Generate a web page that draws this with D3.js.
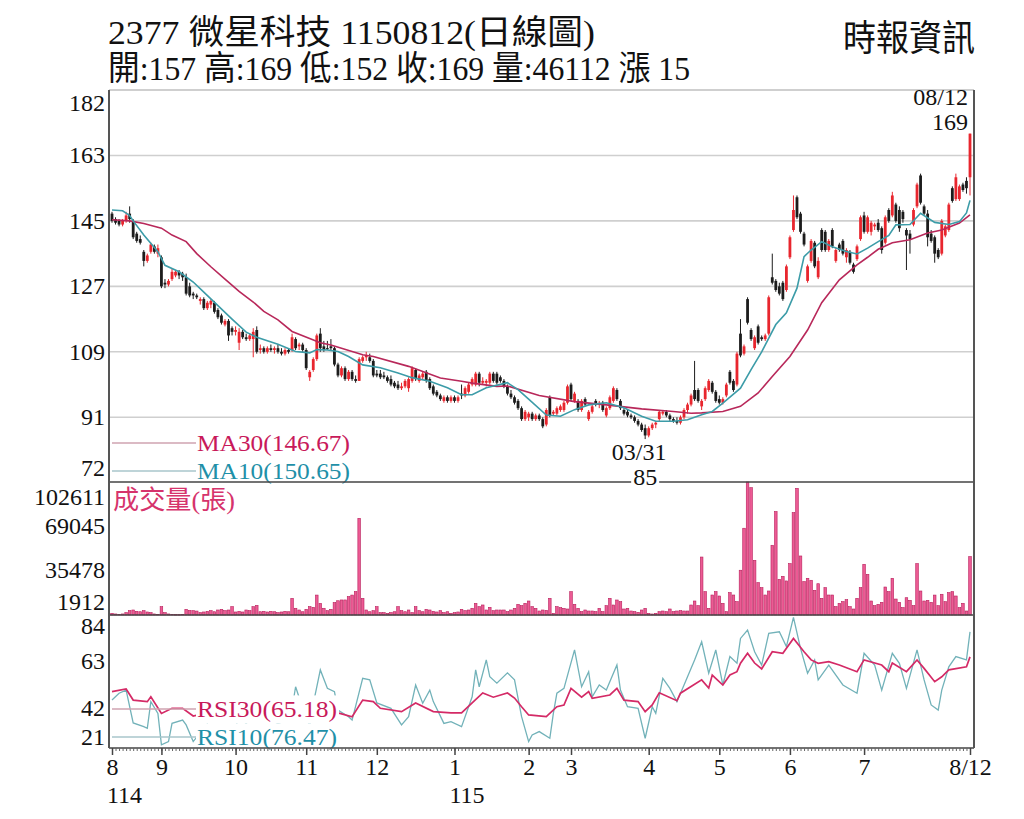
<!DOCTYPE html>
<html>
<head>
<meta charset="utf-8">
<script src="https://cdn.jsdelivr.net/npm/d3@7"></script>
<style>
body { margin: 0; background: #fff; }
svg text { font-family: "Liberation Serif", "Noto Sans CJK TC", serif; }
</style>
</head>
<body>
<svg id="chart" width="1024" height="819"></svg>
<script>
// daily candles, 114/08 .. 115/08/12 (one value per trading day)
var openP = [
  147,145.5,145,144,145,147,145,141.5,140,136.5,134,136.5,138,136,
  135,128,127.5,129,130,131,130.5,129.5,127,125,124.5,123,123.5,121,122,122.5,120.5,119,116.5,117.5,115.5,
  114.5,111.5,114.5,113,112.5,112.5,115,109.5,110,109,110,109.5,110,109,108.5,109.5,109.5,112.5,110.5,111,
  109.5,102,104,107,114,110.5,110,110.5,110,105.5,102.5,104.5,101.5,103.5,101.5,101,106.5,107.5,107.5,106.5,
  103,103,102.5,102,101.5,100.5,100,99,99.5,99,101,104,101,102,103.5,101.5,99.5,98,97,95.5,96.5,95.5,
  96.5,95.5,97.5,97,98,100,100,103,100.5,100.5,100.5,103,103,102,101,99.5,97.5,96.5,95.5,93.5,90.5,
  91,92,90.5,91.5,90.5,89,96.5,92,92,93,93,95,
  100,95.5,95.5,93,96,90.5,92.5,95.5,94.5,95,91.5,93.5,95.5,98.5,95.5,93,92.5,91.5,91,90,89,88,
  86,88,89,90.5,92,92.5,91.5,90.5,90,89.5,91,93,94.5,98.5,98.5,94,96,98.5,100.5,98,
  96,95,97,103.5,101,100,114,108.5,123.5,115,110,116,113,112.5,114,129.5,128.5,127,128,126,
  135,142.5,151.5,147,141.5,128.5,134,139,129.5,142.5,142,137,142.5,134,138.5,139.5,135,136.5,133,134.5,140,
  146.5,142,142,143.5,144.5,143,139,148,146.5,149.5,148,147.5,142.5,141.5,144,149,157.5,149,147,141.5,140.5,137,136,
  141,142.5,154,151,151,155,156,157
];
var highP = [
  147.5,146,145.5,145.5,147.5,149,145.5,142,141,137,136,139,138.5,138.5,
  135.5,129,129,132,131.5,131.5,131,130.5,128,125.5,125,124,124,123,123.5,123,121,119.5,118,118,116,
  116,115.5,115,114,114,115.5,116,111,110.5,110.5,111,110.5,111,110,110,110,114,113,111.5,111.5,
  110,104,107.5,114,115.5,112,112,112.5,110.5,106,105,105,104,104,102.5,107.5,108,109,108.5,107,
  104,104,103.5,102.5,102.5,101,101,100.5,101.5,102,105,104.5,103,103.5,104,102,100,98.5,97.5,97,97,97,
  97,97,100,99.5,100.5,102,103.5,103.5,102,101.5,103.5,103.5,103.5,102.5,101.5,100,98.5,97,96,94,93,
  92.5,92.5,92,92,91,93.5,97,93,94,94.5,95.5,100,
  100.5,98,96,96,96.5,93,94.5,96,95.5,95.5,94,97,99.5,99,96,93.5,93,92,91.5,90.5,89.5,89,
  88.5,89.5,90,93,93,93,92,91,91,91.5,93.5,95,97.5,106.5,99,96,99.5,101.5,101,98.5,
  97,96.5,100.5,104,101.5,109,118,111,124,115.5,113.5,116.5,113.5,114,124.5,136,129,128,128.5,133,
  141,152,152,147.5,142,133,140,139.5,135,143,142.5,140,143,137.5,139,140,137.5,137,133.5,138.5,146.5,
  147.5,146.5,145,144.5,145.5,143.5,146.5,148.5,153,150,149,148,143,142.5,148.5,155.5,158,149.5,148,142.5,141,137.5,145.5,
  144,150,154.5,158,155,155.5,157,169
];
var lowP = [
  144.5,144,143.5,143.5,144.5,144.5,140,139,138.5,132.5,133.5,136,136,135,
  126.5,126.5,127,128.5,129.5,129,128.5,124.5,124,123.5,123.5,122,120.5,120.5,121,119.5,118,116.5,116,112,113.5,
  113.5,109.5,112.5,112,112,107.5,108.5,108.5,108.5,108.5,109,108.5,108.5,108,108,108.5,109,109.5,109.5,109,
  104,101,103.5,106.5,109,109,109.5,109.5,105,102,102,101,101,101,100.5,101,106,106.5,106,102,
  102,101.5,101.5,100.5,99.5,99,98.5,98.5,99,98,100.5,101,100.5,101.5,100.5,98.5,97,96.5,95.5,95,95,95,
  95,95,96,96.5,97.5,99.5,99.5,99.5,100,99.5,100,100.5,100,100.5,99,97,96,94.5,93,90,90,
  90,90,90,90,88,88.5,91,91.5,91.5,92.5,92.5,94.5,
  95.5,95,92.5,92.5,94,90,92,94,93.5,92.5,91,93,95,95.5,93,91.5,91,90.5,89.5,88.5,87,85,
  85.5,87.5,88,90,91.5,91,90,89.5,89,89,90.5,92,94,95.5,95,93,95.5,98,97.5,95,
  94.5,94.5,96.5,100,98,99.5,107.5,108,116.5,112,109.5,111,112,112,113.5,127.5,125.5,124.5,123,125.5,
  134.5,142,145.5,141.5,138,128,133.5,132,129,136.5,136.5,136.5,137.5,133.5,136.5,135.5,133.5,133,130.5,134,139.5,
  141.5,141.5,141,142.5,142,136,138.5,144.5,146,144.5,142,144.5,131.5,136,143.5,148.5,149.5,146.5,138,139,133.5,134.5,135.5,
  140.5,142,150,150.5,150.5,153,152.5,152
];
var closeP = [
  145,144.5,144,145,146.5,145.5,140.5,139.5,139,134,135.5,138.5,136.5,137.5,
  127,127.5,128.5,131,131,130,129.5,125,124.5,124.5,124,123.5,121,122.5,123,120,118.5,117,117.5,113.5,114.5,
  115,114.5,113,112.5,113.5,114.5,109,110,109,110,109.5,110,109,108.5,109.5,109,113,110,111,109.5,
  104.5,103.5,107,113.5,110,109.5,110,110,105.5,102.5,104.5,101.5,103.5,101.5,101,107,107.5,108,106.5,102.5,
  102.5,102,102,101,100,99.5,99,99.5,101,101.5,104.5,101.5,102.5,103,101,99,97.5,97,96,96.5,95.5,96.5,
  95.5,96.5,97,99,100,101.5,103,100.5,101,101,103,101,100.5,101,99.5,97.5,96.5,95,93.5,90.5,92.5,
  92,90.5,91.5,90.5,88.5,93,91.5,92.5,93.5,94,95,99.5,
  96,97.5,93,95.5,94.5,92.5,94,94.5,95,93,93.5,96.5,99,96,93.5,92,91.5,91,90,89,87.5,86,
  88,89,89.5,92.5,92.5,91.5,90.5,90,89.5,91,93,94.5,97,96,95.5,95.5,99,101,98,95.5,
  95,96,100,100.5,98.5,108.5,108,110.5,117,112.5,113,111.5,112.5,113.5,124,128,126,125,123.5,132.5,
  140.5,148,146,142,138.5,132.5,139.5,132.5,134,137,137,139.5,138,137,137,136,137,133.5,131,138,146,
  142,146,144.5,144,142.5,137,146,145,152,145,143,145.5,141,140,148,155,150,147,140.5,139.5,136,135,145,
  143.5,149.5,150.5,157,154.5,153.5,154,169
];
var volume = [
  3200,2700,2400,2700,3700,5200,5700,4700,4400,5200,4200,3700,2700,2400,
  8200,3700,2700,2400,2200,2200,2300,6200,5400,5200,4900,3700,4200,4700,5200,4400,5700,6200,5200,5700,8200,
  4200,4700,4200,5700,5200,8200,9200,4400,4700,4200,4700,4400,3700,4200,4700,4400,14500,7000,5700,4400,
  6200,8200,7700,17000,10700,7000,5200,6200,11300,12700,13300,13300,15800,17000,19600,75100,14500,5700,4400,5200,
  8200,3700,3700,3200,3700,4400,8200,5200,4400,5700,3700,8200,5200,4400,6200,5700,4700,4200,5200,3700,4400,3200,
  3700,4200,6200,5200,5700,7000,10700,8200,9500,5700,7700,5200,5700,5700,5700,4440,5700,6960,9980,8980,10740,
  12510,8220,6960,4940,5700,5450,14530,3170,8220,7470,6960,6460,
  19580,9980,6960,4440,5700,4940,4940,4440,6960,4440,8980,14530,9480,13270,12000,6460,6960,4940,4440,3930,5700,6960,
  3170,2670,3170,4440,4940,4440,6460,4440,4940,5200,4940,4940,9480,12510,9000,45800,19580,6960,17050,19580,
  16300,10740,4440,18820,17050,12000,35800,67600,102611,98300,43300,26400,22600,17050,20080,54700,80200,28900,31200,27700,
  40800,79400,97800,46600,27200,29700,28200,20600,25600,14530,22600,17050,17050,8220,10740,12000,13500,8220,6460,14530,22600,
  40300,32700,12510,8980,9980,11500,23100,19580,29700,14000,11500,7470,15000,13000,8980,40800,20080,12510,13000,11500,17000,8980,17600,
  12000,18820,19580,16300,7470,10740,4940,46112
];

// moving averages and RSI: [day, value]
var ma10 = [[0,148],[3,147.8],[5,146.5],[6,145],[9,141.1],[13,136.5],[15,132.8],[19,131],[23,128.2],[26,125.4],
  [30,121.7],[34,118],[38,114.4],[41,113],[47,111.1],[52,109.1],[56,108.7],[58,109.6],[61,109.5],[64,109.1],
  [67,107.7],[71,105.4],[76,104.6],[81,103.2],[85,101.9],[90,100.9],[95,99.1],[99,97.2],[102,97.2],[106,99.1],
  [112,100.5],[115,98.6],[118,96],[123,91.6],[127,91.3],[131,93.1],[135,94.4],[140,95],[145,93.6],[150,91.3],
  [154,89.9],[159,89.9],[163,90.3],[167,91.7],[170,92.6],[173,94.9],[178,99],[181,104.1],[184,109],[188,116.5],
  [191,119.7],[194,126.5],[196,135.2],[198,137],[201,139.3],[204,137.9],[208,136.6],[211,135.9],[214,137.5],
  [217,139.3],[220,141],[222,143.9],[226,144],[229,147.1],[233,144.6],[237,144],[240,144.8],[242,147.2],[243,150.65]];
var ma30 = [[0,145.3],[5,145],[9,144.3],[14,143],[17,141.1],[21,139.3],[24,136],[28,132.4],[32,129],[36,125.6],
  [40,122.7],[43,120.1],[47,117.8],[51,114.6],[59,111.5],[62,110.9],[71,108.2],[74,107.7],[84,105],[93,101.8],
  [99,100.9],[102,100.4],[109,99.5],[112,99.6],[121,97],[131,95.3],[140,94.4],[150,93.3],[159,92.6],[164,92.1],
  [167,92.2],[173,92.6],[178,94],[183,97.7],[187,102.2],[192,107.7],[197,115],[201,122.5],[206,128.8],[211,132.9],
  [214,135],[217,137.2],[221,139],[226,139.8],[231,141.7],[235,142.5],[240,144.4],[243,146.67]];
var rsi30 = [[0,49.5],[4,50.7],[6,45.7],[10,45],[11,47.2],[14,39.7],[17,42],[20,42],[23,38.5],[27,40],[31,38.5],
  [34,37.5],[36,40.5],[39,39],[41,41.5],[44,39],[48,38],[51,42],[53,40],[56,37.5],[59,42],[61,40],[64,39.9],
  [68,38.2],[71,45.7],[74,45],[76,42],[82,40.5],[86,44.4],[91,40.5],[96,39.9],[99,39.9],[102,44.4],[105,48.9],
  [108,47],[112,48.9],[114,46.6],[116,42.7],[118,39],[123,38.2],[126,42.7],[128,43.5],[130,51],[133,47],[135,49.5],
  [136,46.5],[141,48],[143,51],[145,45.7],[149,45],[151,40.5],[153,43.5],[155,49],[160,45.4],[161,48.8],[167,54.8],
  [169,51.1],[170,57],[173,52.5],[175,57],[177,58.5],[178,62.3],[180,66.8],[182,62.4],[184,59.7],[187,67.5],
  [190,66.8],[193,73.5],[196,67.5],[198,63.8],[200,62.3],[203,63],[206,61.5],[211,58.5],[213,63.8],[218,61.5],
  [220,58.5],[221,62.4],[225,58.5],[228,63.8],[230,60],[233,54],[235,56.2],[237,59.3],[242,60.7],[243,65.18]];
var rsi10 = [[0,45.7],[2,48.8],[4,50.2],[6,35.4],[9,33.7],[10,33],[11,45],[13,39.7],[14,25.5],[16,27],[17,35.2],
  [20,36.7],[21,34.5],[23,27],[25,31],[27,35],[29,30],[31,28],[33,27],[35,33],[36,39],[38,35],[40,40],[41,36],
  [44,38],[47,35],[50,37],[51,42],[52,51.7],[54,42],[56,34],[57,44],[59,59.3],[61,51],[63,49.5],[64,41.2],
  [67,38.2],[68,36.7],[71,55.5],[73,54.8],[75,44.4],[79,42],[82,34.5],[84,38.2],[86,52.5],[88,44.3],[90,50.2],
  [91,45],[94,35.2],[96,36],[99,33.7],[102,47.2],[103,59.3],[104,51.7],[106,63.8],[107,56.2],[109,53.3],[112,58],
  [114,54.8],[116,38.2],[118,27],[119,30],[121,31.5],[124,28.5],[125,39.7],[126,48.8],[128,51],[131,68.3],
  [133,51.7],[135,58.5],[136,47.2],[138,52.5],[140,50.2],[143,61.5],[144,50.2],[146,42.7],[149,42],[151,28.5],
  [153,42.7],[154,39.7],[156,55.5],[158,51],[160,45],[163,56.2],[165,63.8],[167,72],[169,57.8],[171,68.3],
  [173,52.5],[175,65.3],[177,62.3],[178,73.5],[180,77.3],[182,67.5],[184,61.5],[186,75.8],[189,76.5],[191,69.8],
  [193,83],[195,69],[197,57.8],[199,63.8],[200,54.8],[203,61.5],[207,52.5],[211,48.8],[213,66.8],[216,61.5],
  [218,50.2],[221,66.8],[223,62.3],[225,51],[228,68.3],[230,54.8],[232,43.5],[234,41.2],[235,50.2],[237,60.7],
  [239,65.3],[242,63.8],[243,76.47]];

// axis labels
var monthStart = [0, 14, 35, 55, 75, 97, 118, 130, 152, 172, 192, 213];
var monthLabels = ["8", "9", "10", "11", "12", "1", "2", "3", "4", "5", "6", "7"];
var yearStart = [0, 97];
var yearLabels = ["114", "115"];
var lastDate = "08/12", lastMonthLabel = "8/12";
var lowDate = "03/31";
var priceTicks = [72, 91, 109, 127, 145, 163, 182];
var priceGrid = [91, 109, 127, 145, 163];
var volTicks = [1912, 35478, 69045, 102611];
var rsiTicks = [21, 42, 63, 84];

var N = closeP.length;
var svg = d3.select("#chart");
var L = 109, R = 974;
var mainTop = 90, mainBot = 482, volBot = 615, rsiBot = 748;
var red = "#e8262e", black = "#1c1c1c";

var x = d3.scaleLinear().domain([0, N - 1]).range([112, 970]);
var yP = d3.scaleLinear().domain([73.2, 181]).range([mainBot, mainTop]);
var yV = d3.scaleLinear().domain([1912, 102611]).range([volBot, mainBot]);
var yR = d3.scaleLinear().domain([24.1, 84.05]).range([rsiBot, volBot]);

// title
svg.append("text").attr("x", 108).attr("y", 44).attr("font-size", 34).attr("fill", "#111")
    .attr("textLength", 487).attr("lengthAdjust", "spacingAndGlyphs")
    .text("2377  微星科技 1150812(日線圖)");
svg.append("text").attr("x", 108).attr("y", 80).attr("font-size", 34).attr("fill", "#111")
    .attr("textLength", 582).attr("lengthAdjust", "spacingAndGlyphs")
    .text("開:" + openP[N-1] + " 高:" + highP[N-1] + " 低:" + lowP[N-1] + " 收:" + closeP[N-1] +
          " 量:" + volume[N-1] + " 漲 " + (closeP[N-1] - closeP[N-2]));
svg.append("text").attr("x", 843).attr("y", 51).attr("font-size", 36).attr("fill", "#111")
    .attr("textLength", 132).attr("lengthAdjust", "spacingAndGlyphs")
    .text("時報資訊");

// grid
svg.append("line").attr("x1", L).attr("x2", R).attr("y1", mainTop).attr("y2", mainTop)
    .attr("stroke", "#cfcfcf").attr("stroke-width", 2);
svg.append("g").selectAll("line").data(priceGrid).join("line")
    .attr("x1", L).attr("x2", R)
    .attr("y1", function(d) { return yP(d); })
    .attr("y2", function(d) { return yP(d); })
    .attr("stroke", "#cfcfcf").attr("stroke-width", 1.6);

// left labels, the end ones pushed inside their panel
function leftAxis(scale, ticks, top, bot, padTop, padBot) {
    var g = svg.append("g").attr("transform", "translate(" + L + ",0)")
        .call(d3.axisLeft(scale).tickValues(ticks).tickSize(0).tickPadding(4).tickFormat(d3.format("d")));
    g.select(".domain").remove();
    g.selectAll(".tick").attr("transform", function(d) {
        return "translate(0," + Math.min(bot - padBot, Math.max(top + padTop, scale(d))) + ")";
    });
    g.selectAll("text").attr("font-size", 24).attr("fill", "#111");
}
leftAxis(yP, priceTicks, mainTop, mainBot, 13, 14);
leftAxis(yV, volTicks, mainBot, volBot, 15, 13);
leftAxis(yR, rsiTicks, volBot, rsiBot, 11, 11);

// candles
function isUp(i) { return closeP[i] > openP[i]; }
var candle = svg.append("g").selectAll("g").data(d3.range(N)).join("g");
candle.append("line")
    .attr("x1", function(i) { return x(i); })
    .attr("x2", function(i) { return x(i); })
    .attr("y1", function(i) { return yP(highP[i]); })
    .attr("y2", function(i) { return yP(lowP[i]); })
    .attr("stroke", function(i) { return isUp(i) ? red : black; })
    .attr("stroke-width", 1);
candle.append("rect")
    .attr("x", function(i) { return x(i) - 1.4; })
    .attr("width", 2.8)
    .attr("y", function(i) { return yP(Math.max(openP[i], closeP[i])); })
    .attr("height", function(i) { return Math.max(1, Math.abs(yP(openP[i]) - yP(closeP[i]))); })
    .attr("fill", function(i) { return isUp(i) ? red : black; });

// moving averages
var line = d3.line()
    .x(function(d) { return x(d[0]); })
    .y(function(d) { return yP(d[1]); });
svg.append("path").attr("d", line(ma30)).attr("fill", "none").attr("stroke", "#b8285a").attr("stroke-width", 1.6);
svg.append("path").attr("d", line(ma10)).attr("fill", "none").attr("stroke", "#3c9ca8").attr("stroke-width", 1.6);

// volume
svg.append("g").selectAll("rect").data(d3.range(N)).join("rect")
    .attr("x", function(i) { return x(i) - 1.3; })
    .attr("width", 2.6)
    .attr("y", function(i) { return yV(volume[i]); })
    .attr("height", function(i) { return Math.max(0.5, volBot - yV(volume[i])); })
    .attr("fill", "#ec5b94").attr("stroke", "#b81d5a").attr("stroke-width", 0.6);

// RSI
var rsiLine = d3.line()
    .x(function(d) { return x(d[0]); })
    .y(function(d) { return yR(d[1]); });
svg.append("path").attr("d", rsiLine(rsi10)).attr("fill", "none").attr("stroke", "#72b2b9").attr("stroke-width", 1.3);
svg.append("path").attr("d", rsiLine(rsi30)).attr("fill", "none").attr("stroke", "#d42a66").attr("stroke-width", 1.7);

// legends with a white box so the lines pass behind them
function legend(y, label, color, lineColor, width) {
    svg.append("line").attr("x1", 112).attr("x2", 196).attr("y1", y).attr("y2", y)
        .attr("stroke", lineColor).attr("stroke-width", 1.5);
    var g = svg.append("g");
    var t = g.append("text").attr("x", 197).attr("y", y).attr("dy", "0.35em")
        .attr("font-size", 24).attr("fill", color)
        .attr("textLength", width).attr("lengthAdjust", "spacingAndGlyphs")
        .text(label);
    var b = t.node().getBBox();
    g.insert("rect", "text").attr("x", b.x - 1).attr("y", b.y - 1).attr("width", b.width + 3)
        .attr("height", b.height + 2).attr("fill", "#fff");
}
legend(443, "MA30(" + ma30[ma30.length - 1][1].toFixed(2) + ")", "#c8195a", "#cfa3b1", 153);
legend(471, "MA10(" + ma10[ma10.length - 1][1].toFixed(2) + ")", "#1f90a8", "#a9c6cb", 153);
legend(709, "RSI30(" + rsi30[rsi30.length - 1][1].toFixed(2) + ")", "#c8195a", "#cfa3b1", 140);
legend(737, "RSI10(" + rsi10[rsi10.length - 1][1].toFixed(2) + ")", "#1f90a8", "#a9c6cb", 140);

// frame
[mainBot, volBot, rsiBot].forEach(function(y) {
    svg.append("line").attr("x1", L).attr("x2", R).attr("y1", y).attr("y2", y)
        .attr("stroke", "#444").attr("stroke-width", 1.6);
});
[L, R].forEach(function(xx) {
    svg.append("line").attr("x1", xx).attr("x2", xx).attr("y1", mainTop).attr("y2", rsiBot)
        .attr("stroke", "#555").attr("stroke-width", 2);
});

// x axis: a small tick per day, longer ones at month starts
var dayAxis = svg.append("g").attr("transform", "translate(0," + rsiBot + ")")
    .call(d3.axisBottom(x).tickValues(d3.range(N)).tickSize(3).tickFormat(""));
dayAxis.select(".domain").remove();
dayAxis.selectAll("line").attr("stroke", "#666");
var monthTicks = monthStart.concat([N - 1]);
var monthText = monthLabels.concat([lastMonthLabel]);
var monthAxis = svg.append("g").attr("transform", "translate(0," + rsiBot + ")")
    .call(d3.axisBottom(x).tickValues(monthTicks).tickSize(7).tickPadding(3)
        .tickFormat(function(d, i) { return monthText[i]; }));
monthAxis.select(".domain").remove();
monthAxis.selectAll("line").attr("stroke", "#444").attr("stroke-width", 1.5);
monthAxis.selectAll("text").attr("font-size", 24).attr("fill", "#111");
svg.append("g").selectAll("text").data(yearStart).join("text")
    .attr("x", function(d) { return x(d) - 5; })
    .attr("y", 803)
    .attr("font-size", 24).attr("fill", "#111")
    .text(function(d, i) { return yearLabels[i]; });

svg.append("text").attr("x", 113).attr("y", 500).attr("dy", "0.35em")
    .attr("font-size", 26).attr("fill", "#d6336c")
    .attr("textLength", 122).attr("lengthAdjust", "spacingAndGlyphs")
    .text("成交量(張)");

// last close and period low notes
svg.append("text").attr("x", 968).attr("y", 97).attr("dy", "0.35em").attr("text-anchor", "end")
    .attr("font-size", 24).attr("fill", "#111").text(lastDate);
svg.append("text").attr("x", 968).attr("y", 122).attr("dy", "0.35em").attr("text-anchor", "end")
    .attr("font-size", 24).attr("fill", "#111").text(highP[N - 1]);

var lowIdx = d3.minIndex(lowP);
svg.append("text").attr("x", x(lowIdx) - 6).attr("y", yP(lowP[lowIdx]) + 13).attr("dy", "0.35em")
    .attr("text-anchor", "middle").attr("font-size", 24).attr("fill", "#111").text(lowDate);
var lowG = svg.append("g");
var lowT = lowG.append("text").attr("x", x(lowIdx)).attr("y", yP(lowP[lowIdx]) + 38).attr("dy", "0.35em")
    .attr("text-anchor", "middle").attr("font-size", 24).attr("fill", "#111").text(lowP[lowIdx]);
var lb = lowT.node().getBBox();
lowG.insert("rect", "text").attr("x", lb.x - 2).attr("y", lb.y + 3).attr("width", lb.width + 4)
    .attr("height", lb.height - 4).attr("fill", "#fff");
</script>
</body>
</html>
